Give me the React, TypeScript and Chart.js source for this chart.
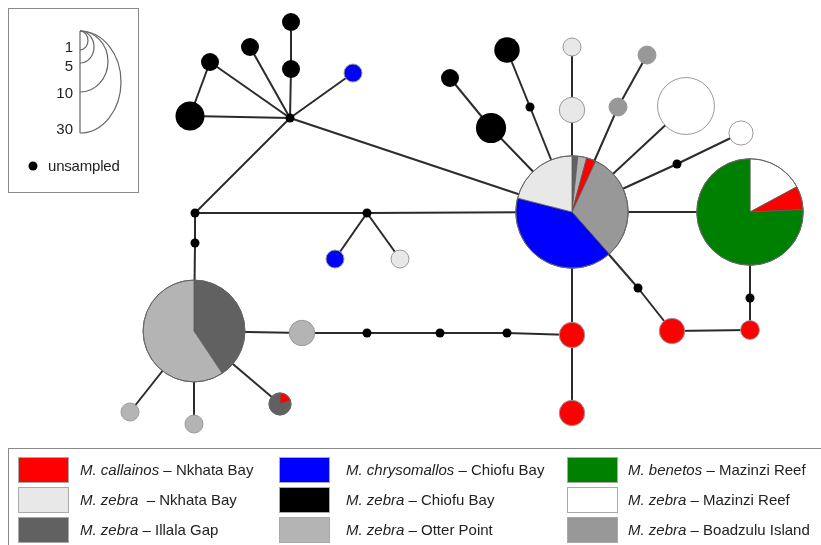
import React, { useEffect, useRef } from "react";
import { Chart, registerables } from "chart.js";
Chart.register(...registerables);

// ---- groups (legend) ----
const groupSpecies = ["M. callainos", "M. chrysomallos", "M. benetos", "M. zebra", "M. zebra", "M. zebra", "M. zebra", "M. zebra", "M. zebra"];
const groupSites = ["Nkhata Bay", "Chiofu Bay", "Mazinzi Reef", "Nkhata Bay", "Chiofu Bay", "Mazinzi Reef", "Illala Gap", "Otter Point", "Boadzulu Island"];
const groupColors = ["#ff0000", "#0000ff", "#008000", "#e8e8e8", "#000000", "#ffffff", "#616161", "#b4b4b4", "#989898"];
// legend is laid out column-wise: column 1 = groups 0,3,6 ; column 2 = 1,4,7 ; column 3 = 2,5,8

// ---- haplotype nodes ----
const nodeIds = ["hub", "b1", "b2", "b3", "b4", "b5", "bl1", "u1", "u2", "u3", "bl2", "nk1", "PB", "ot1", "u4", "u5", "u6", "r1", "r2", "ot2", "ot3", "ig1", "PC", "bk6", "bk7", "bk8", "u7", "nk2", "nk3", "bz1", "bz2", "wh1", "wh2", "u8", "PD", "u9", "r3", "r4", "u10"];
const nodeX = [290, 190, 210, 250, 291, 291, 353, 195, 195, 367, 335, 400, 194, 302, 367, 440, 507, 572, 572, 130, 194, 280, 572, 450, 491, 507, 530, 572, 572, 647, 618, 686, 741, 677, 750, 750, 750, 672, 638];
const nodeY = [118, 116, 62, 47, 22, 69, 73, 213, 243, 213, 259, 259, 331, 333, 333, 333, 333, 335, 413, 412, 424, 404, 212, 78, 128, 50, 107, 47, 110, 55, 107, 106, 133, 164, 212, 298, 330, 331, 288];
// haplotype counts per node as [groupIndex, count] pairs; empty = unsampled
const nodeCounts: [number, number][][] = [
  [], [[4, 2.6]], [[4, 1]], [[4, 1]], [[4, 1]], [[4, 1]], [[1, 1]],
  [], [], [], [[1, 1]], [[3, 1]],
  [[6, 13], [7, 19]],
  [[7, 2]], [], [], [], [[0, 2]], [[0, 2]], [[7, 1]], [[7, 1]], [[0, 0.3], [6, 1.2]],
  [[6, 0.65], [7, 1], [0, 1.05], [8, 12.3], [1, 15.8], [3, 8.2]],
  [[4, 1]], [[4, 2.8]], [[4, 2]], [], [[3, 1]], [[3, 2]], [[8, 1]], [[8, 1]], [[5, 10]], [[5, 1.8]], [],
  [[5, 6], [0, 2.5], [2, 26.5]],
  [], [[0, 1.1]], [[0, 2]], [],
];

// ---- network edges ----
const edgeFrom = ["hub", "b1", "b2", "hub", "b4", "b5", "hub", "hub", "hub", "u1", "u3", "u3", "u3", "u1", "u2", "PB", "ot1", "u4", "u5", "u6", "r1", "r1", "PB", "PB", "PB", "PC", "bk7", "PC", "u7", "PC", "nk3", "PC", "bz2", "PC", "PC", "u8", "PC", "PD", "u9", "r3", "r4", "u10"];
const edgeTo = ["b1", "b2", "hub", "b3", "b5", "hub", "bl1", "PC", "u1", "u3", "PC", "bl2", "nk1", "u2", "PB", "ot1", "u4", "u5", "u6", "r1", "PC", "r2", "ot2", "ot3", "ig1", "bk7", "bk6", "u7", "bk8", "nk3", "nk2", "bz2", "bz1", "wh1", "u8", "wh2", "PD", "u9", "r3", "r4", "u10", "PC"];

// ---- size scale inset ----
const scaleValues = [1, 5, 10, 30];

const nodeRadius = (total: number) => (total <= 0 ? 4.5 : 9 * Math.sqrt(total));

const piePlugin = {
  id: "haploPies",
  afterDatasetsDraw(chart: any) {
    const ctx = chart.ctx;
    const meta = chart.getDatasetMeta(chart.data.datasets.length - 1);
    meta.data.forEach((pt: any, i: number) => {
      const slices = nodeCounts[i];
      const total = slices.reduce((s, c) => s + c[1], 0);
      const r = nodeRadius(total);
      const x = pt.x, y = pt.y;
      ctx.save();
      if (total <= 0) {
        ctx.beginPath();
        ctx.arc(x, y, r, 0, Math.PI * 2);
        ctx.fillStyle = "#000";
        ctx.fill();
        ctx.restore();
        return;
      }
      let a = -Math.PI / 2;
      const allBlack = slices.every((s) => s[0] === 4);
      slices.forEach(([g, c]) => {
        const a2 = a + (c / total) * Math.PI * 2;
        ctx.beginPath();
        if (slices.length > 1) ctx.moveTo(x, y);
        ctx.arc(x, y, r, a, a2);
        ctx.closePath();
        ctx.fillStyle = groupColors[g];
        ctx.fill();
        if (slices.length > 1) {
          ctx.lineWidth = 0.8;
          ctx.strokeStyle = "#5a5a5a";
          ctx.stroke();
        }
        a = a2;
      });
      if (!allBlack) {
        ctx.beginPath();
        ctx.arc(x, y, r, 0, Math.PI * 2);
        ctx.lineWidth = 1;
        ctx.strokeStyle = slices.length > 1 ? "#666" : "#999";
        ctx.stroke();
      }
      ctx.restore();
    });
  },
};

function NetworkChart() {
  const ref = useRef<HTMLCanvasElement>(null);
  useEffect(() => {
    if (!ref.current) return;
    const pos = (id: string) => {
      const k = nodeIds.indexOf(id);
      return { x: nodeX[k], y: nodeY[k] };
    };
    const edgeSets = edgeFrom.map((f, i) => ({
      type: "scatter" as const,
      data: [pos(f), pos(edgeTo[i])],
      showLine: true,
      borderColor: "#2b2b2b",
      borderWidth: 2,
      pointRadius: 0,
      pointHoverRadius: 0,
    }));
    const nodeSet = {
      type: "scatter" as const,
      data: nodeIds.map((_, i) => ({ x: nodeX[i], y: nodeY[i] })),
      pointRadius: 0,
      pointHoverRadius: 0,
      showLine: false,
    };
    const chart = new Chart(ref.current, {
      type: "scatter",
      data: { datasets: [...edgeSets, nodeSet] as any },
      options: {
        animation: false,
        responsive: false,
        devicePixelRatio: 1,
        layout: { padding: 0 },
        plugins: { legend: { display: false }, tooltip: { enabled: false } },
        events: [],
        scales: {
          x: { type: "linear", min: 0, max: 821, display: false },
          y: { type: "linear", min: 0, max: 545, reverse: true, display: false },
        },
      },
      plugins: [piePlugin],
    });
    return () => chart.destroy();
  }, []);
  return <canvas ref={ref} width={821} height={545} style={{ position: "absolute", left: 0, top: 0 }} />;
}

const ellipseRx = [8, 14, 28, 41];
const ellipseRy = [9.5, 16, 30.5, 51];
const labelY = [47, 66, 93, 129];

export default function App() {
  const columns = [[0, 3, 6], [1, 4, 7], [2, 5, 8]];
  const colSwatchX = [18, 279, 567];
  const colTextX = [80, 346, 628];
  const rowY = [457, 487, 517];
  return (
    <div style={{ position: "absolute", left: 0, top: 0, width: 821, height: 545, background: "#fff", overflow: "hidden", fontFamily: '"Liberation Sans", Arial, sans-serif', color: "#222" }}>
      <NetworkChart />
      {/* size scale inset */}
      <div style={{ position: "absolute", left: 8, top: 8, width: 131, height: 185, boxSizing: "border-box", border: "1px solid #8a8a8a" }} />
      <svg width={821} height={200} style={{ position: "absolute", left: 0, top: 0 }}>
        <line x1={80} y1={31} x2={80} y2={133} stroke="#666" strokeWidth={1.2} />
        {scaleValues.map((v, i) => (
          <path key={v} d={`M 80 31 A ${ellipseRx[i]} ${ellipseRy[i]} 0 0 1 80 ${31 + 2 * ellipseRy[i]}`} fill="none" stroke="#666" strokeWidth={1.2} />
        ))}
        <circle cx={33} cy={166} r={4.5} fill="#000" />
      </svg>
      {scaleValues.map((v, i) => (
        <div key={v} style={{ position: "absolute", right: 821 - 73, top: labelY[i] - 9, fontSize: 15, lineHeight: "18px" }}>{v}</div>
      ))}
      <div style={{ position: "absolute", left: 48, top: 157, fontSize: 15, lineHeight: "18px", letterSpacing: "-0.2px" }}>unsampled</div>
      {/* legend */}
      <div style={{ position: "absolute", left: 8, top: 448, width: 820, height: 100, boxSizing: "border-box", border: "1px solid #8a8a8a" }} />
      {columns.map((col, ci) =>
        col.map((g, ri) => (
          <React.Fragment key={g}>
            <div style={{ position: "absolute", left: colSwatchX[ci], top: rowY[ri], width: 51, height: 26, boxSizing: "border-box", background: groupColors[g], border: "1px solid #aaa" }} />
            <div style={{ position: "absolute", left: colTextX[ci], top: rowY[ri] + 3, fontSize: 15, lineHeight: "19px", whiteSpace: "pre" }}>
              <i>{groupSpecies[g]}</i>{(g === 3 ? "  – " : " – ") + groupSites[g]}
            </div>
          </React.Fragment>
        ))
      )}
    </div>
  );
}
